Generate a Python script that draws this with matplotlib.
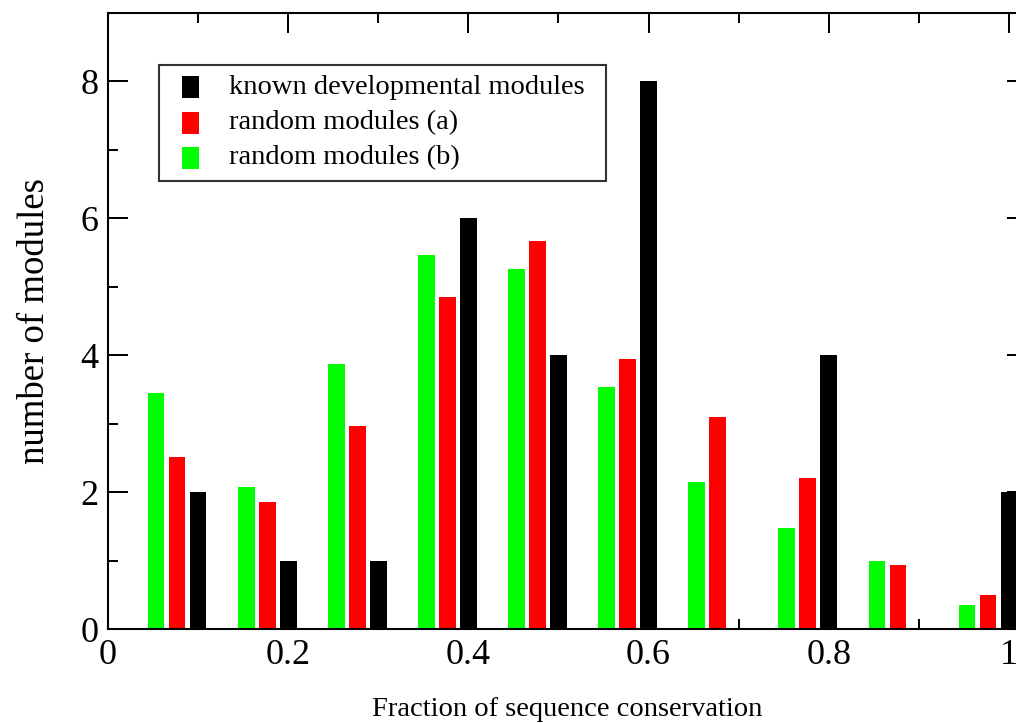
import numpy as np
import matplotlib
matplotlib.use("Agg")
import matplotlib.pyplot as plt
from matplotlib.patches import Rectangle
from matplotlib.ticker import MultipleLocator, FuncFormatter

plt.rcParams["font.family"] = ["Liberation Serif", "DejaVu Serif"]

bins = [0.1, 0.2, 0.3, 0.4, 0.5, 0.6, 0.7, 0.8, 0.9, 1.0]
known = [2, 1, 1, 6, 4, 8, 0, 4, 0, 2]
random_a = [2.51, 1.85, 2.96, 4.85, 5.67, 3.94, 3.10, 2.21, 0.93, 0.49]
random_b = [3.45, 2.07, 3.87, 5.46, 5.26, 3.54, 2.15, 1.47, 1.00, 0.35]
labels = ["known developmental modules", "random modules (a)", "random modules (b)"]
colors = ["#000000", "#ff0000", "#00ff00"]

W, H = 1016, 723
fig = plt.figure(figsize=(W / 100, H / 100), dpi=100)
ax = fig.add_axes([108 / W, (H - 629) / H, 919 / W, 616 / H])

x = np.array(bins)
bw = 0.0185
step = 0.0233
ax.bar(x - 2 * step, random_b, width=bw, color=colors[2], linewidth=0)
ax.bar(x - step, random_a, width=bw, color=colors[1], linewidth=0)
ax.bar(x, known, width=bw, color=colors[0], linewidth=0)

ax.set_xlim(0, 1.02)
ax.set_ylim(0, 9)
ax.xaxis.set_major_locator(MultipleLocator(0.2))
ax.xaxis.set_minor_locator(MultipleLocator(0.1))
ax.yaxis.set_major_locator(MultipleLocator(2))
ax.yaxis.set_minor_locator(MultipleLocator(1))
ax.xaxis.set_major_formatter(FuncFormatter(lambda v, p: "%g" % round(v, 2)))
ax.tick_params(which="both", direction="in", top=True, right=True, width=1.44,
               labelsize=26, pad=7)
ax.tick_params(which="major", length=14.4)
ax.tick_params(which="minor", length=7.2)
for s in ax.spines.values():
    s.set_linewidth(1.5)

# legend box drawn by hand (pixel layout, top-left origin)
def px(xp, yp):
    return xp / W, 1 - yp / H

fx, fy = px(159, 181)
fig.patches.append(Rectangle((fx, fy), (606 - 159) / W, (181 - 65) / H,
                             transform=fig.transFigure, facecolor="white",
                             edgecolor="#333333", linewidth=1.5, zorder=5))
rows = [87, 123, 158]
for yc, lab, c in zip(rows, labels, colors):
    mx, my = px(182, yc + 11)
    fig.patches.append(Rectangle((mx, my), 17 / W, 22 / H, transform=fig.transFigure,
                                 facecolor=c, edgecolor="none", zorder=6))
    tx, ty = px(229, yc)
    fig.text(tx, ty, lab, ha="left", va="center", fontsize=20.5, zorder=7)

fig.text(35 / W, 1 - 321 / H, "number of modules", rotation=90, ha="center",
         va="center", fontsize=26.5)
fig.text(567 / W, 1 - 710 / H, "Fraction of sequence conservation", ha="center",
         va="center", fontsize=20.5)

fig.savefig("out.png", dpi=100)
